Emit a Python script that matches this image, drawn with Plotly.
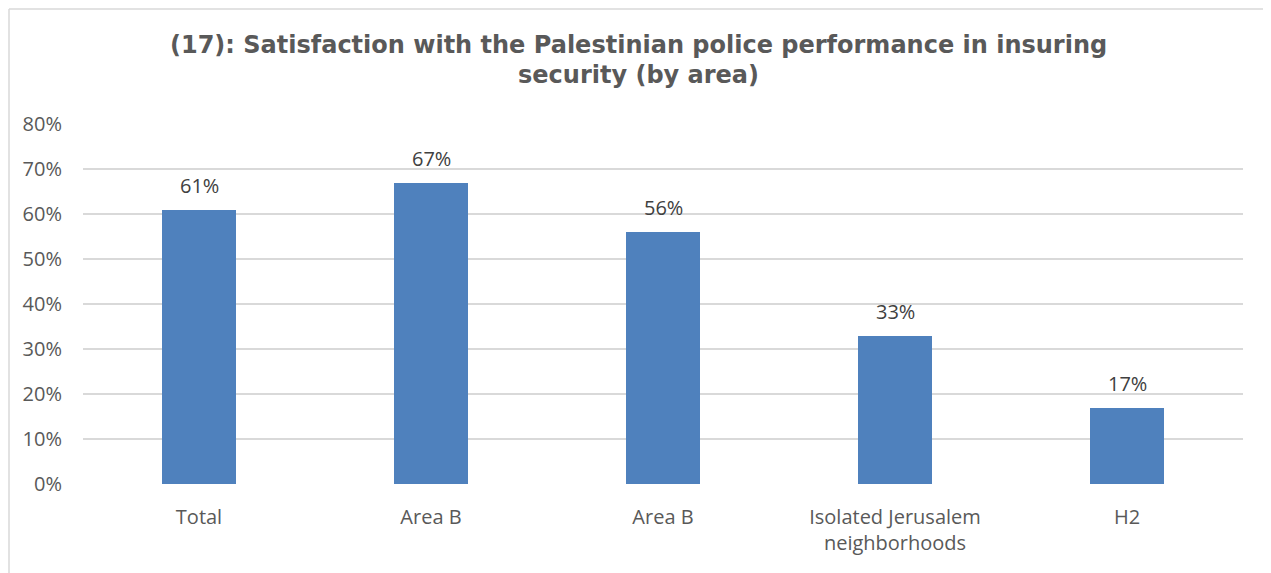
import plotly.graph_objects as go

categories = ["Total", "Area B", "Area B", "Isolated Jerusalem<br>neighborhoods", "H2"]
values = [61, 67, 56, 33, 17]
y_ticks = [0, 10, 20, 30, 40, 50, 60, 70, 80]
y_tick_labels = [f"{v}%" for v in y_ticks]
title_lines = ["(17): Satisfaction with the Palestinian police performance in insuring",
               "security (by area)"]

positions = list(range(len(categories)))
label_font = dict(family="'Open Sans', sans-serif", size=20, color="#404040")
tick_font = dict(family="'Open Sans', sans-serif", size=20, color="#595959")

W, H = 1263, 565
L, R, T, B = 75, 28, 116, 89
PW, PH = W - L - R, H - T - B

fig = go.Figure()
fig.add_trace(go.Bar(
    x=positions,
    y=values,
    width=0.315,
    marker=dict(color="#4f81bd", line=dict(width=0)),
    hoverinfo="skip",
))

for p, v in zip(positions, values):
    fig.add_annotation(
        x=p, y=v, xref="x", yref="y",
        text=f"{v}%", showarrow=False,
        yanchor="bottom", yshift=9,
        font=label_font,
    )

title_font = dict(family="'DejaVu Sans', sans-serif", size=24, color="#595959")
for i, line in enumerate(title_lines):
    fig.add_annotation(
        x=(630 - L) / PW, xref="paper", y=(H - B - (37 + 30 * i)) / PH, yref="paper",
        text=f"<b>{line}</b>", showarrow=False,
        xanchor="center", yanchor="middle",
        font=title_font,
    )

border = dict(color="#d9d9d9", width=1.5)
fig.update_layout(
    width=W,
    height=H,
    paper_bgcolor="white",
    plot_bgcolor="white",
    margin=dict(l=L, r=R, t=T, b=B, autoexpand=False),
    showlegend=False,
    bargap=0,
    xaxis=dict(
        range=[-0.5, len(categories) - 0.5],
        tickmode="array",
        tickvals=positions,
        ticktext=categories,
        showgrid=False,
        zeroline=False,
        showline=False,
        ticks="",
        ticklabelstandoff=19,
        tickfont=tick_font,
        automargin=False,
        fixedrange=True,
    ),
    yaxis=dict(
        range=[0, 80],
        tickmode="array",
        tickvals=y_ticks,
        ticktext=y_tick_labels,
        showgrid=True,
        gridcolor="#d9d9d9",
        gridwidth=1.5,
        zeroline=False,
        showline=False,
        ticks="",
        ticklabelstandoff=20,
        tickfont=tick_font,
        automargin=False,
        fixedrange=True,
    ),
    shapes=[
        dict(type="line", xref="paper", yref="paper",
             x0=(1 - L) / PW, x1=(1 - L) / PW,
             y0=-B / PH, y1=(H - B - 1) / PH, line=border, layer="below"),
        dict(type="line", xref="paper", yref="paper",
             x0=(1 - L) / PW, x1=(W - L) / PW,
             y0=(H - B - 1) / PH, y1=(H - B - 1) / PH, line=border, layer="below"),
    ],
)

fig.write_html("out.html")
